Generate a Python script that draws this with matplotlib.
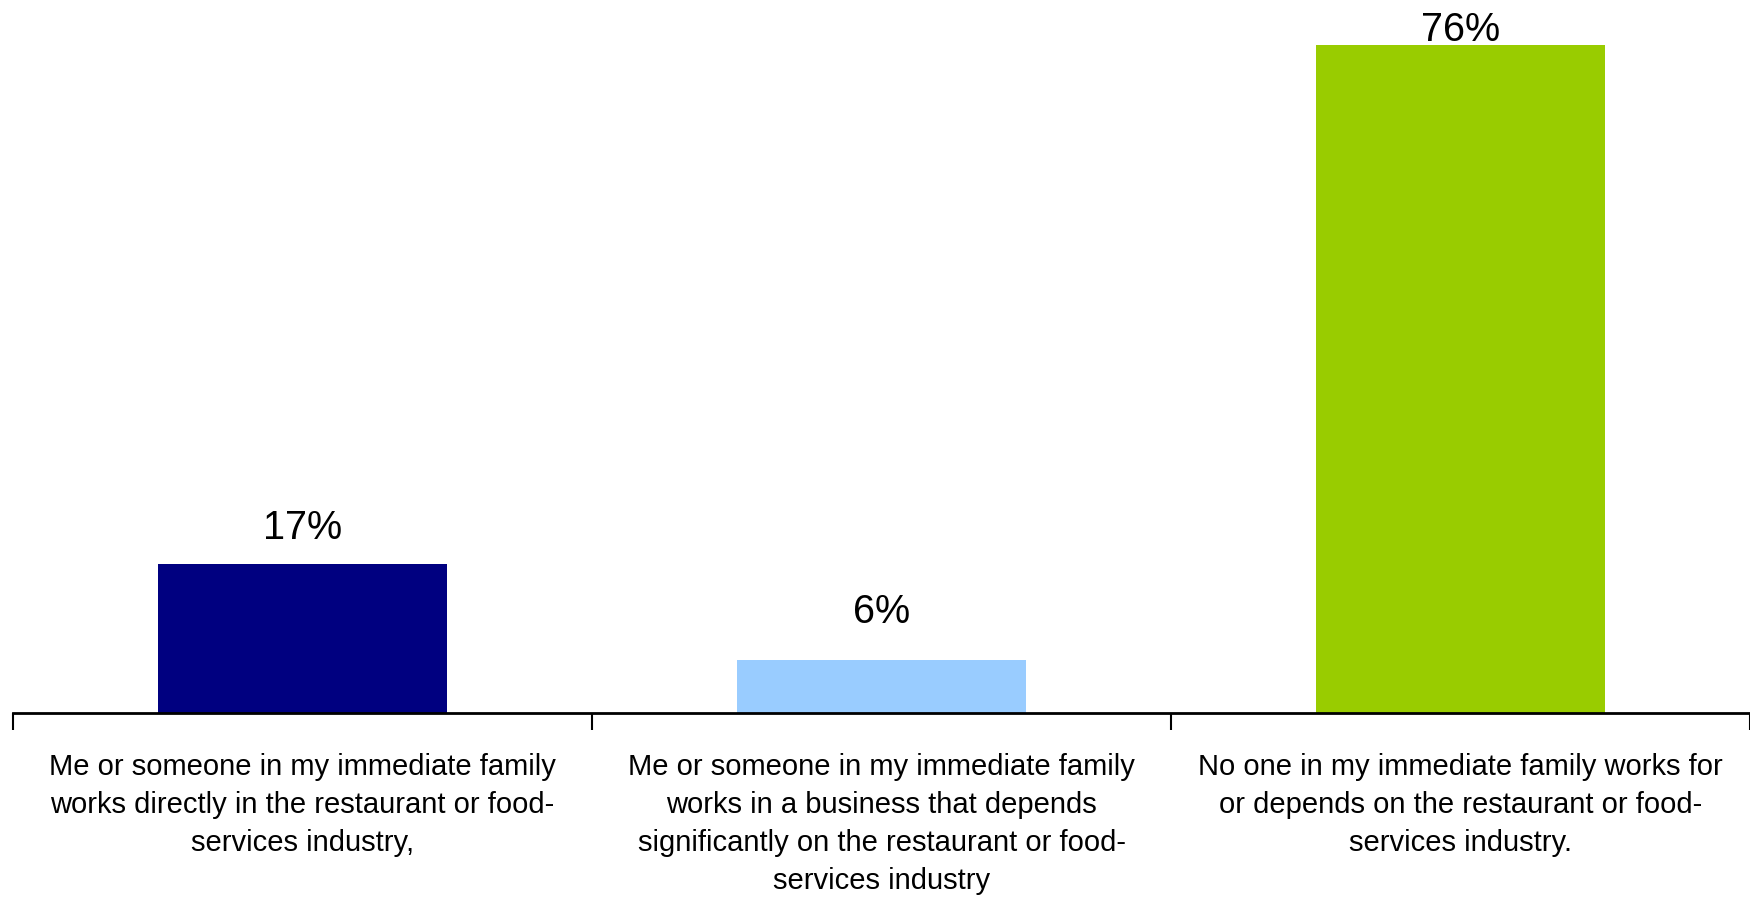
import numpy as np
import matplotlib
matplotlib.use("Agg")
import matplotlib.pyplot as plt

# Data
categories = [
    "Me or someone in my immediate family\nworks directly in the restaurant or food-\nservices industry,",
    "Me or someone in my immediate family\nworks in a business that depends\nsignificantly on the restaurant or food-\nservices industry",
    "No one in my immediate family works for\nor depends on the restaurant or food-\nservices industry.",
]
values = [17, 6, 76]
value_labels = ["17%", "6%", "76%"]

colors = ["#000080", "#99CCFF", "#99CC00"]
label_pad = [25, 37, 4]  # pixels between bar top and label baseline

plt.rcParams['font.family'] = ['Liberation Sans', 'DejaVu Sans']

fig = plt.figure(figsize=(17.5, 8.97), dpi=100)
ax = fig.add_axes([13 / 1750, 1 - 713 / 897, 1 - 13 / 1750, 703 / 897])

x = np.arange(len(values))
bars = ax.bar(x, values, width=0.5, color=colors, zorder=2)

for bar, lab, pad in zip(bars, value_labels, label_pad):
    ax.annotate(lab, (bar.get_x() + bar.get_width() / 2, bar.get_height()),
                xytext=(0, pad), textcoords='offset pixels',
                ha='center', va='baseline', fontsize=28.5)

ax.set_xlim(-0.5, len(values) - 0.5)
ax.set_ylim(0, 80)

# category labels between the boundary ticks
ax.set_xticks(x)
ax.set_xticklabels(categories, fontsize=21, linespacing=1.45)
ax.tick_params(axis='x', which='major', length=0, pad=29)
ax.set_xticks(np.arange(-0.5, len(values)), minor=True)
ax.tick_params(axis='x', which='minor', length=12, width=1.5, direction='out', color='black')
ax.set_yticks([])

for s in ['left', 'right', 'top']:
    ax.spines[s].set_visible(False)
ax.spines['bottom'].set_linewidth(2)

fig.savefig("out.png", dpi=100)
